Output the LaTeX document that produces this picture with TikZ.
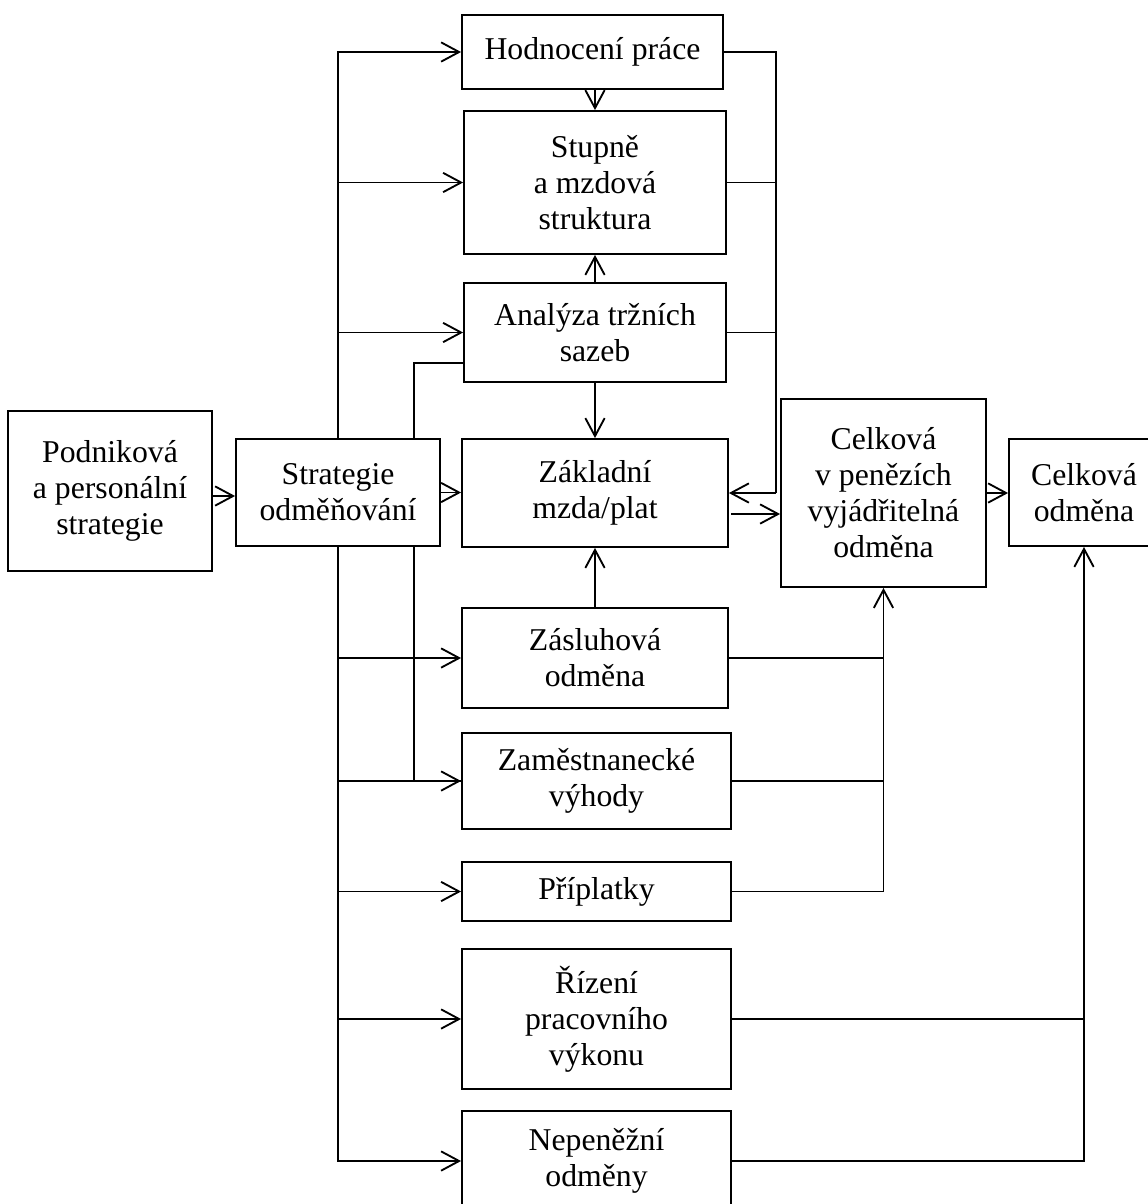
\documentclass[tikz,border=0pt]{standalone}
\usepackage{fontspec}
\setmainfont{Liberation Serif}
\usetikzlibrary{arrows.meta}
\begin{document}
\begin{tikzpicture}[x=0.75pt,y=-0.75pt,
  line width=1.4pt,
  box/.style={draw, rectangle, inner sep=0pt, align=center,
    font=\fontsize{23.8}{27}\selectfont},
  arr/.style={-{Straight Barb[length=13.5pt,width=14.5pt]}}]
\useasboundingbox (0,0) rectangle (1148,1204);
\clip (0,0) rectangle (1148,1204);
% boxes (centre in px, size in pt = px*0.75)
\node[box, minimum width=153pt, minimum height=120pt] (pod) at (110,491) {Podniková\\a personální\\strategie};
\node[box, minimum width=153pt, minimum height=80.25pt] (str) at (338,492.5) {Strategie\\odměňování};
\node[box, minimum width=195.75pt, minimum height=55.5pt] (hod) at (592.5,52) {Hodnocení práce};
\node[box, minimum width=196.5pt, minimum height=107.25pt] (stu) at (595,182.5) {Stupně\\a mzdová\\struktura};
\node[box, minimum width=196.5pt, minimum height=74.25pt] (ana) at (595,332.5) {Analýza tržních\\sazeb};
\node[box, minimum width=199.5pt, minimum height=81pt] (zak) at (595,493) {Základní\\mzda/plat};
\node[box, minimum width=199.5pt, minimum height=75pt] (zas) at (595,658) {Zásluhová\\odměna};
\node[box, minimum width=201.75pt, minimum height=72pt] (zam) at (596.5,781) {Zaměstnanecké\\výhody};
\node[box, minimum width=201.75pt, minimum height=44.25pt] (pri) at (596.5,891.5) {Příplatky};
\node[box, minimum width=201.75pt, minimum height=105pt] (riz) at (596.5,1019) {Řízení\\pracovního\\výkonu};
\node[box, minimum width=201.75pt, minimum height=75pt] (nep) at (596.5,1161) {Nepeněžní\\odměny};
\node[box, minimum width=153.75pt, minimum height=141pt] (cvp) at (883.5,493) {Celková\\v penězích\\vyjádřitelná\\odměna};
\node[box, minimum width=112.5pt, minimum height=80.25pt] (cod) at (1084,492.5) {Celková\\odměna};
% helper coordinates
\coordinate (siT) at (414,439);
\coordinate (siB) at (414,546);
\coordinate (anaIn) at (464,363);
\coordinate (rm) at (776,493);
\coordinate (zo) at (731,514);
\coordinate (po) at (212,496);
% left side
\draw[arr] (po) -- (po -| str.west);
\draw[arr] (str.north) |- (hod.west);
\draw[arr] (str.north) |- (stu.west);
\draw[arr] (str.north) |- (ana.west);
\draw (siT) |- (anaIn);
\draw[arr] (str.east) -- (str.east -| zak.west);
\draw[arr] (str.south) |- (zas.west);
\draw[arr] (str.south) |- (zam.west);
\draw[arr] (str.south) |- (pri.west);
\draw[arr] (str.south) |- (riz.west);
\draw[arr] (str.south) |- (nep.west);
\draw (siB) |- (zam.west);
% vertical between centre boxes
\draw[arr] (stu.north |- hod.south) -- (stu.north);
\draw[arr] (ana.north) -- (stu.south);
\draw[arr] (ana.south) -- (zak.north);
\draw[arr] (zas.north) -- (zak.south);
% right merge into Zakladni
\draw (hod.east) -| (rm);
\draw (stu.east) -- (stu.east -| rm);
\draw (ana.east) -- (ana.east -| rm);
\draw[arr] (rm) -- (rm -| zak.east);
\draw[arr] (zo) -- (zo -| cvp.west);
\draw[arr] (cvp.east) -- (cvp.east -| cod.west);
% merge into cvp
\draw (zas.east) -- (zas.east -| cvp.south);
\draw (zam.east) -- (zam.east -| cvp.south);
\draw[arr] (pri.east) -| (cvp.south);
% merge into cod
\draw (riz.east) -- (riz.east -| cod.south);
\draw[arr] (nep.east) -| (cod.south);
\end{tikzpicture}
\end{document}
